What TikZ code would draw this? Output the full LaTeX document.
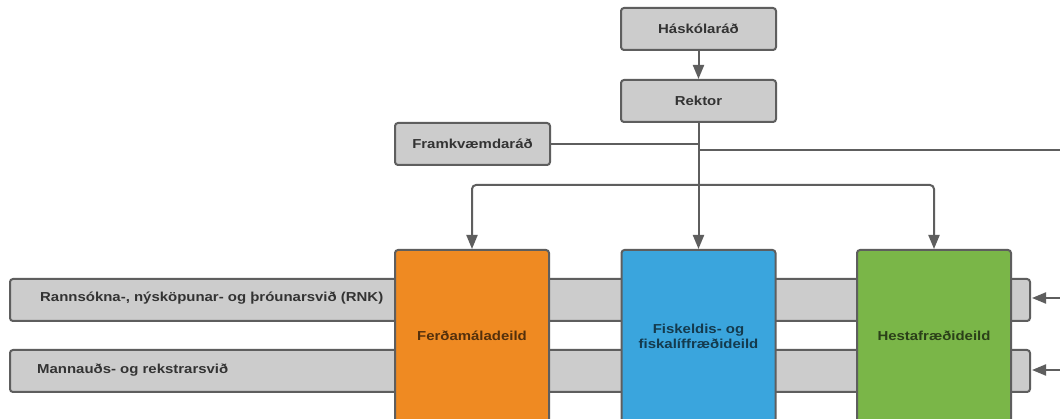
\documentclass[tikz,border=0pt]{standalone}
\usepackage{fontspec}
\setmainfont[FakeStretch=1.15]{Liberation Sans}
\usetikzlibrary{arrows.meta}
\definecolor{boxgray}{HTML}{CCCCCC}
\definecolor{edgegray}{HTML}{5E5E5E}
\definecolor{txt}{HTML}{333333}
\definecolor{orng}{HTML}{EF8A22}
\definecolor{blu}{HTML}{3AA5DD}
\definecolor{grn}{HTML}{7AB648}
\tikzset{
  box/.style={draw=edgegray, line width=2pt, rounded corners=3pt, fill=boxgray,
    minimum width=155pt, minimum height=42pt, inner sep=0pt,
    font=\fontsize{13}{15}\selectfont\bfseries, text=txt, align=center},
  bar/.style={draw=edgegray, line width=2pt, rounded corners=3pt, fill=boxgray},
  dept/.style={draw=edgegray, line width=2pt, rounded corners=3pt,
    minimum width=154pt, minimum height=172pt, inner sep=0pt,
    font=\fontsize{13}{15}\selectfont\bfseries, align=center},
  lbl/.style={font=\fontsize{13}{15}\selectfont\bfseries, text=txt, anchor=west, inner sep=0pt},
  conn/.style={draw=edgegray, line width=2pt},
  arr/.style={conn, -{Triangle[width=11pt,length=14pt]}}
}
\begin{document}
\begin{tikzpicture}[x=1pt,y=-1pt]
\useasboundingbox (0,0) rectangle (1060,419);
\clip (0,0) rectangle (1060,419);
\fill[white] (0,0) rectangle (1060,419);
% top boxes
\node[box] (hask) at (698.5,29) {Háskólaráð};
\node[box] (rekt) at (698.5,101) {Rektor};
\node[box] (fram) at (472.5,144) {Framkvæmdaráð};
% horizontal bars
\draw[bar] (10,279) rectangle (1030,321);
\draw[bar] (10,350) rectangle (1030,392);
\node[lbl] (rnktxt) at (40,298) {Rannsókna-, nýsköpunar- og þróunarsvið (RNK)};
\node[lbl] (manntxt) at (37,370) {Mannauðs- og rekstrarsvið};
% department boxes
\node[dept, fill=orng, text=orng!35!black] (ferd) at (472,336) {Ferðamáladeild};
\node[dept, fill=blu, text=blu!35!black] (fisk) at (698.5,336) {Fiskeldis- og\\fiskalíffræðideild};
\node[dept, fill=grn, text=grn!35!black] (hest) at (934,336) {Hestafræðideild};
% connectors
\coordinate (j) at (698.5,185);
\coordinate (jf) at (698.5,144);
\coordinate (jr) at (698.5,150);
\coordinate (eR) at (1062,150);
\coordinate (t1) at (1032,298);
\coordinate (t2) at (1032,370);
\draw[arr] (hask.south) -- (rekt.north);
\draw[conn] (rekt.south) -- (j);
\draw[conn] (fram.east) -- (jf);
\draw[conn] (jr) -- (eR);
\draw[arr, rounded corners=4pt] (j) -| (ferd.north);
\draw[arr, rounded corners=4pt] (j) -| (hest.north);
\draw[arr] (j) -- (fisk.north);
\coordinate (a1) at (1062,298);
\coordinate (a2) at (1062,370);
\draw[arr] (a1) -- (t1);
\draw[arr] (a2) -- (t2);
\end{tikzpicture}
\end{document}
